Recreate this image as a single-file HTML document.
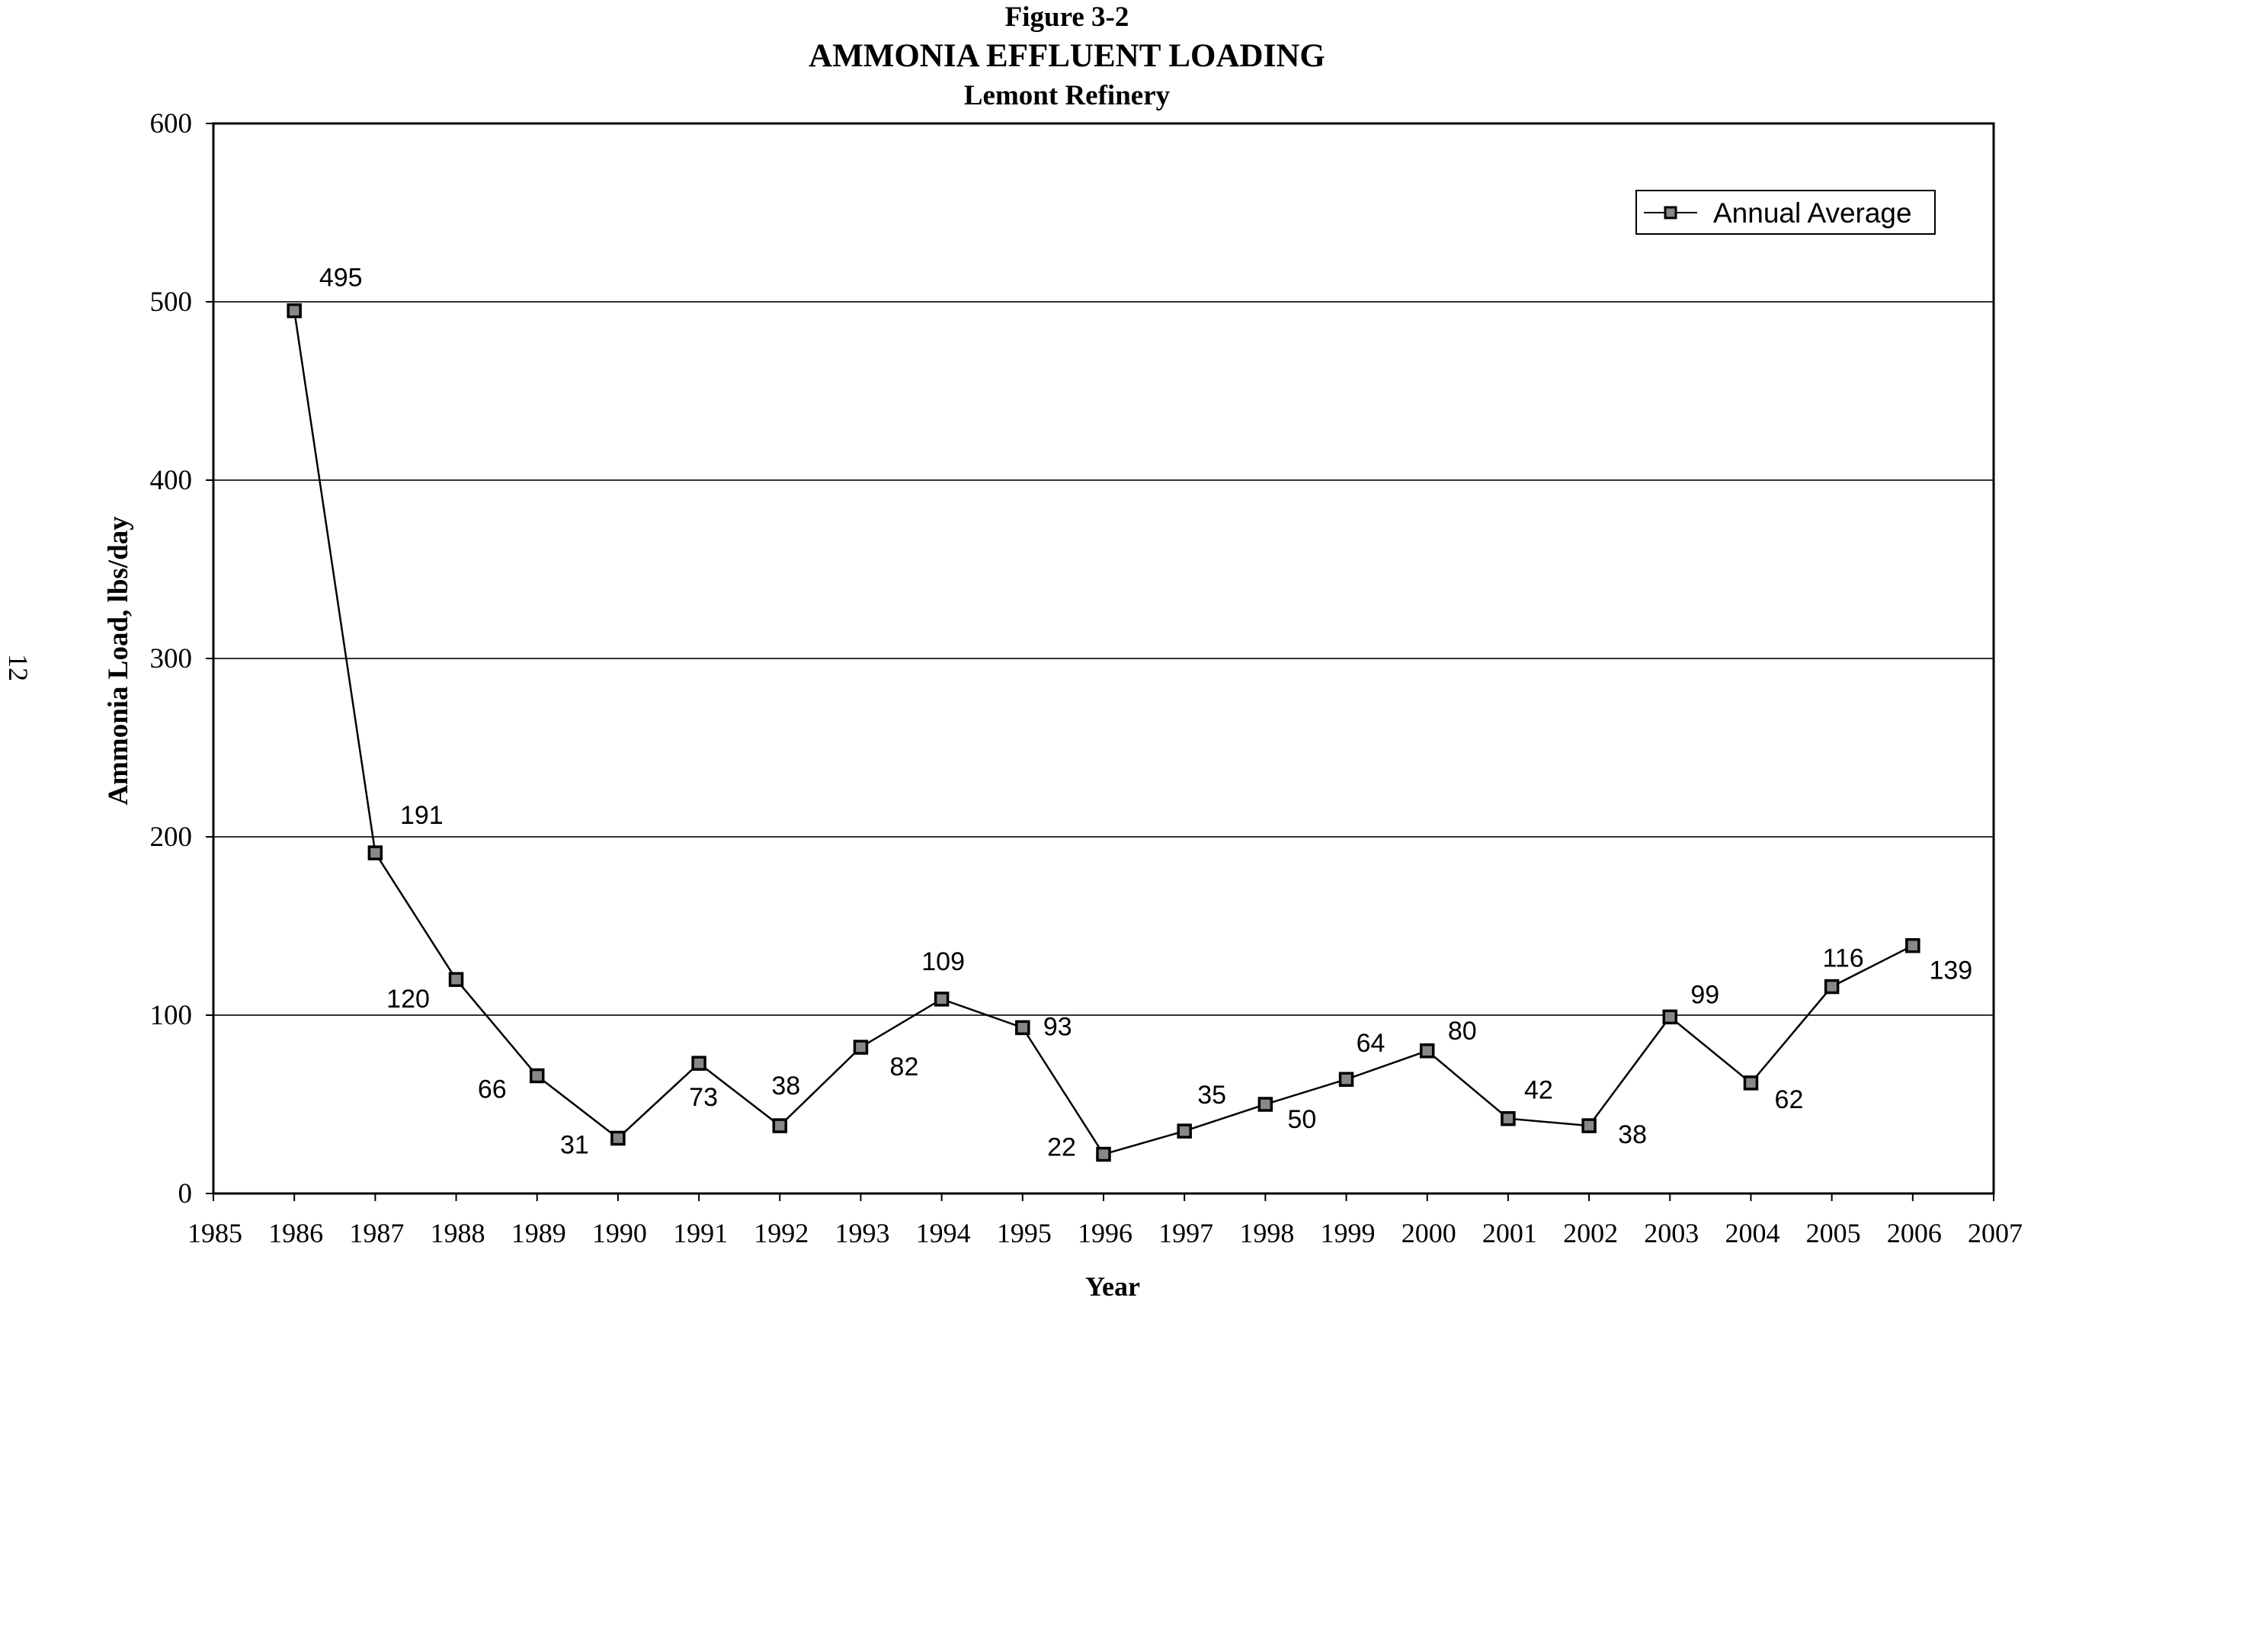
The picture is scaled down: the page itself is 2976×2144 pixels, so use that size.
<!DOCTYPE html>
<html><head><meta charset="utf-8"><style>
html,body{margin:0;padding:0;background:#fff;}
svg{display:block;}
</style></head><body>
<svg id="chart" width="2976" height="2144" viewBox="0 0 2976 2144" xmlns="http://www.w3.org/2000/svg">
<g font-family="'Liberation Serif', serif" font-weight="bold" fill="#000" text-anchor="middle">
<text x="1400" y="34" font-size="37">Figure 3-2</text>
<text x="1400" y="87" font-size="43">AMMONIA EFFLUENT LOADING</text>
<text x="1400" y="137" font-size="37">Lemont Refinery</text>
<text transform="translate(167,867) rotate(-90)" font-size="37">Ammonia Load, lbs/day</text>
<text x="1460" y="1700" font-size="36">Year</text>
</g>
<text transform="translate(12,876) rotate(90)" font-family="'Liberation Serif', serif" font-size="36" text-anchor="middle">12</text>
<g id="grid"></g>
<g id="axes"></g>
<g id="series"></g>
<g id="labels"></g>
<g>
<rect x="2147" y="250" width="392" height="57" fill="#fff" stroke="#000" stroke-width="2"/>
<line x1="2157" y1="279" x2="2227" y2="279" stroke="#000" stroke-width="2"/>
<rect x="2185" y="272" width="14" height="14" fill="#888" stroke="#000" stroke-width="3"/>
<text x="2248" y="292" font-family="'Liberation Sans', sans-serif" font-size="37">Annual Average</text>
</g>
</svg>
<script>
const years = [1986,1987,1988,1989,1990,1991,1992,1993,1994,1995,1996,1997,1998,1999,2000,2001,2002,2003,2004,2005,2006];
const values = [495,191,120,66,31,73,38,82,109,93,22,35,50,64,80,42,38,99,62,116,139];
const xTicks = [1985,1986,1987,1988,1989,1990,1991,1992,1993,1994,1995,1996,1997,1998,1999,2000,2001,2002,2003,2004,2005,2006,2007];
const yTicks = [0,100,200,300,400,500,600];
const labelDx = [61,61,-63,-59,-57,6,8,57,2,46,-55,36,48,32,46,40,57,46,50,15,50];
const labelDy = [-44,-50,25,17,8,44,-53,25,-50,-2,-10,-48,19,-48,-27,-38,11,-30,21,-38,32];

const NS='http://www.w3.org/2000/svg';
const X0=280,X1=2616,Y0=1566,Y1=162;
function xs(v){return X0+(v-1985)/(2007-1985)*(X1-X0);}
function ys(v){return Y0-(v/600)*(Y0-Y1);}
function mk(tag,attrs,parent){const e=document.createElementNS(NS,tag);for(const k in attrs)e.setAttribute(k,attrs[k]);parent.appendChild(e);return e;}
const grid=document.getElementById('grid'),axes=document.getElementById('axes'),series=document.getElementById('series'),labels=document.getElementById('labels');

yTicks.forEach(t=>{
  const y=ys(t);
  if(t>0&&t<600){const g=mk('line',{x1:X0,y1:y,x2:X1,y2:y,stroke:'#333','stroke-width':2},grid);
  
  }
  const tk=mk('line',{x1:X0-10,y1:y,x2:X0,y2:y,stroke:'#000','stroke-width':2},axes);
  
  
  const tx=mk('text',{x:X0-28,y:y+12,'text-anchor':'end','font-family':"'Liberation Serif', serif",'font-size':37},axes);
  tx.textContent=t;
  
  
});
const frame=mk('rect',{x:X0,y:Y1,width:X1-X0,height:Y0-Y1,fill:'none',stroke:'#000','stroke-width':3},axes);


xTicks.forEach(t=>{
  const x=xs(t);
  const tk=mk('line',{x1:x,y1:Y0,x2:x,y2:Y0+10,stroke:'#000','stroke-width':2},axes);
  
  
  const tx=mk('text',{x:x+2,y:Y0+64,'text-anchor':'middle','font-family':"'Liberation Serif', serif",'font-size':36},axes);
  tx.textContent=t;
  
  
});
const pts=years.map((yr,i)=>xs(yr)+','+ys(values[i])).join(' ');
const line=mk('polyline',{points:pts,fill:'none',stroke:'#000','stroke-width':2.5},series);


years.forEach((yr,i)=>{
  const x=xs(yr),y=ys(values[i]);
  const m=mk('rect',{x:x-8,y:y-8,width:16,height:16,fill:'#888',stroke:'#000','stroke-width':3.5},series);
  
  
  const t=mk('text',{x:x+labelDx[i],y:y+labelDy[i]+12,'text-anchor':'middle','font-family':"'Liberation Sans', sans-serif",'font-size':34},labels);
  t.textContent=values[i];
  
  
});
</script>
</body></html>
